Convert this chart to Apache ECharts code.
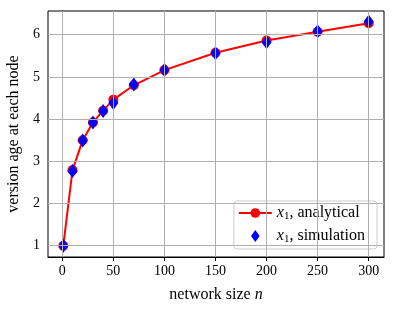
<!DOCTYPE html>
<html><head><meta charset="utf-8">
<script src="https://cdn.jsdelivr.net/npm/echarts@6/dist/echarts.min.js"></script>
<style>html,body{margin:0;padding:0;background:#fff}#c{width:395px;height:311px}</style>
</head><body><div id="c"></div>
<script>
const networkSize = [1, 10, 20, 30, 40, 50, 70, 100, 150, 200, 250, 300];
const analytical = [1.0, 2.79, 3.50, 3.92, 4.20, 4.46, 4.80, 5.16, 5.57, 5.86, 6.07, 6.27];
const simulation = [1.0, 2.77, 3.49, 3.92, 4.19, 4.38, 4.82, 5.16, 5.56, 5.82, 6.08, 6.31];
const xTicks = [0, 50, 100, 150, 200, 250, 300];
const yTicks = [1, 2, 3, 4, 5, 6];
const seriesNames = ['x1, analytical', 'x1, simulation'];

const FONT = 'Liberation Serif';
const chart = echarts.init(document.getElementById('c'), null, {renderer: 'canvas'});
const gridColor = '#b0b0b0';
chart.setOption({
  animation: false,
  textStyle: {fontFamily: FONT},
  grid: {left: 48, right: 11, top: 11, bottom: 54, show: true, borderColor: '#000', borderWidth: 1,
         backgroundColor: 'transparent', containLabel: false, outerBoundsMode: 'none'},
  xAxis: {
    type: 'value', min: -14, max: 315,
    name: 'network size {i|n}', nameLocation: 'middle', nameGap: 30,
    nameTextStyle: {fontFamily: FONT, fontSize: 16, color: '#000', rich: {i: {fontFamily: FONT, fontStyle: 'italic', fontSize: 16, color: '#000'}}},
    axisLine: {show: true, lineStyle: {color: '#000', width: 1}},
    axisTick: {show: true, inside: false, length: 4, customValues: xTicks, lineStyle: {color: '#000'}},
    axisLabel: {customValues: xTicks, margin: 7, fontFamily: FONT, fontSize: 14, color: '#000'},
    splitLine: {show: false}
  },
  yAxis: {
    type: 'value', min: 0.733, max: 6.56,
    name: 'version age at each node', nameLocation: 'middle', nameGap: 21,
    nameTextStyle: {fontFamily: FONT, fontSize: 16, color: '#000'},
    axisLine: {show: true, lineStyle: {color: '#000', width: 1}},
    axisTick: {show: true, inside: false, length: 4, customValues: yTicks, lineStyle: {color: '#000'}},
    axisLabel: {customValues: yTicks, margin: 8, fontFamily: FONT, fontSize: 14, color: '#000'},
    splitLine: {show: false}
  },
  legend: {
    orient: 'vertical', right: 18, bottom: 62,
    itemWidth: 33, itemHeight: 12, itemGap: 6,
    padding: [4, 12, 4, 4],
    borderColor: '#cccccc', borderWidth: 1, borderRadius: 3,
    backgroundColor: 'rgba(255,255,255,0.8)',
    symbolKeepAspect: true,
    textStyle: {fontFamily: FONT, fontSize: 16, color: '#000',
      rich: {i: {fontFamily: FONT, fontStyle: 'italic', fontSize: 16, color: '#000'},
             s: {fontFamily: FONT, fontSize: 11, color: '#000', verticalAlign: 'bottom', padding: [7, 0, 0, 0]},
             t: {fontFamily: FONT, fontSize: 16, color: '#000'}}},
    formatter: function (name) { return '{i|x}{s|1}{t|' + name.slice(2) + '}'; },
    data: [{name: seriesNames[0]}, {name: seriesNames[1], icon: 'path://M5,0L10,7L5,14L0,7Z'}]
  },
  series: [
    {
      name: '_grid', type: 'line', data: [], silent: true,
      markLine: {
        silent: true, symbol: 'none', label: {show: false}, animation: false,
        lineStyle: {color: gridColor, width: 1, type: 'solid'},
        data: xTicks.map(v => ({xAxis: v})).concat(yTicks.map(v => ({yAxis: v})))
      }
    },
    {
      name: seriesNames[0], type: 'line', z: 3,
      data: networkSize.map((n, i) => [n, analytical[i]]),
      lineStyle: {color: '#ff0000', width: 2},
      itemStyle: {color: '#ff0000', opacity: 1},
      symbol: 'circle', symbolSize: 10, showAllSymbol: true
    },
    {
      name: seriesNames[1], type: 'scatter', z: 4,
      data: networkSize.map((n, i) => [n, simulation[i]]),
      itemStyle: {color: '#0000ff', opacity: 1},
      symbol: 'diamond', symbolSize: [10, 14]
    }
  ]
});
</script></body></html>
